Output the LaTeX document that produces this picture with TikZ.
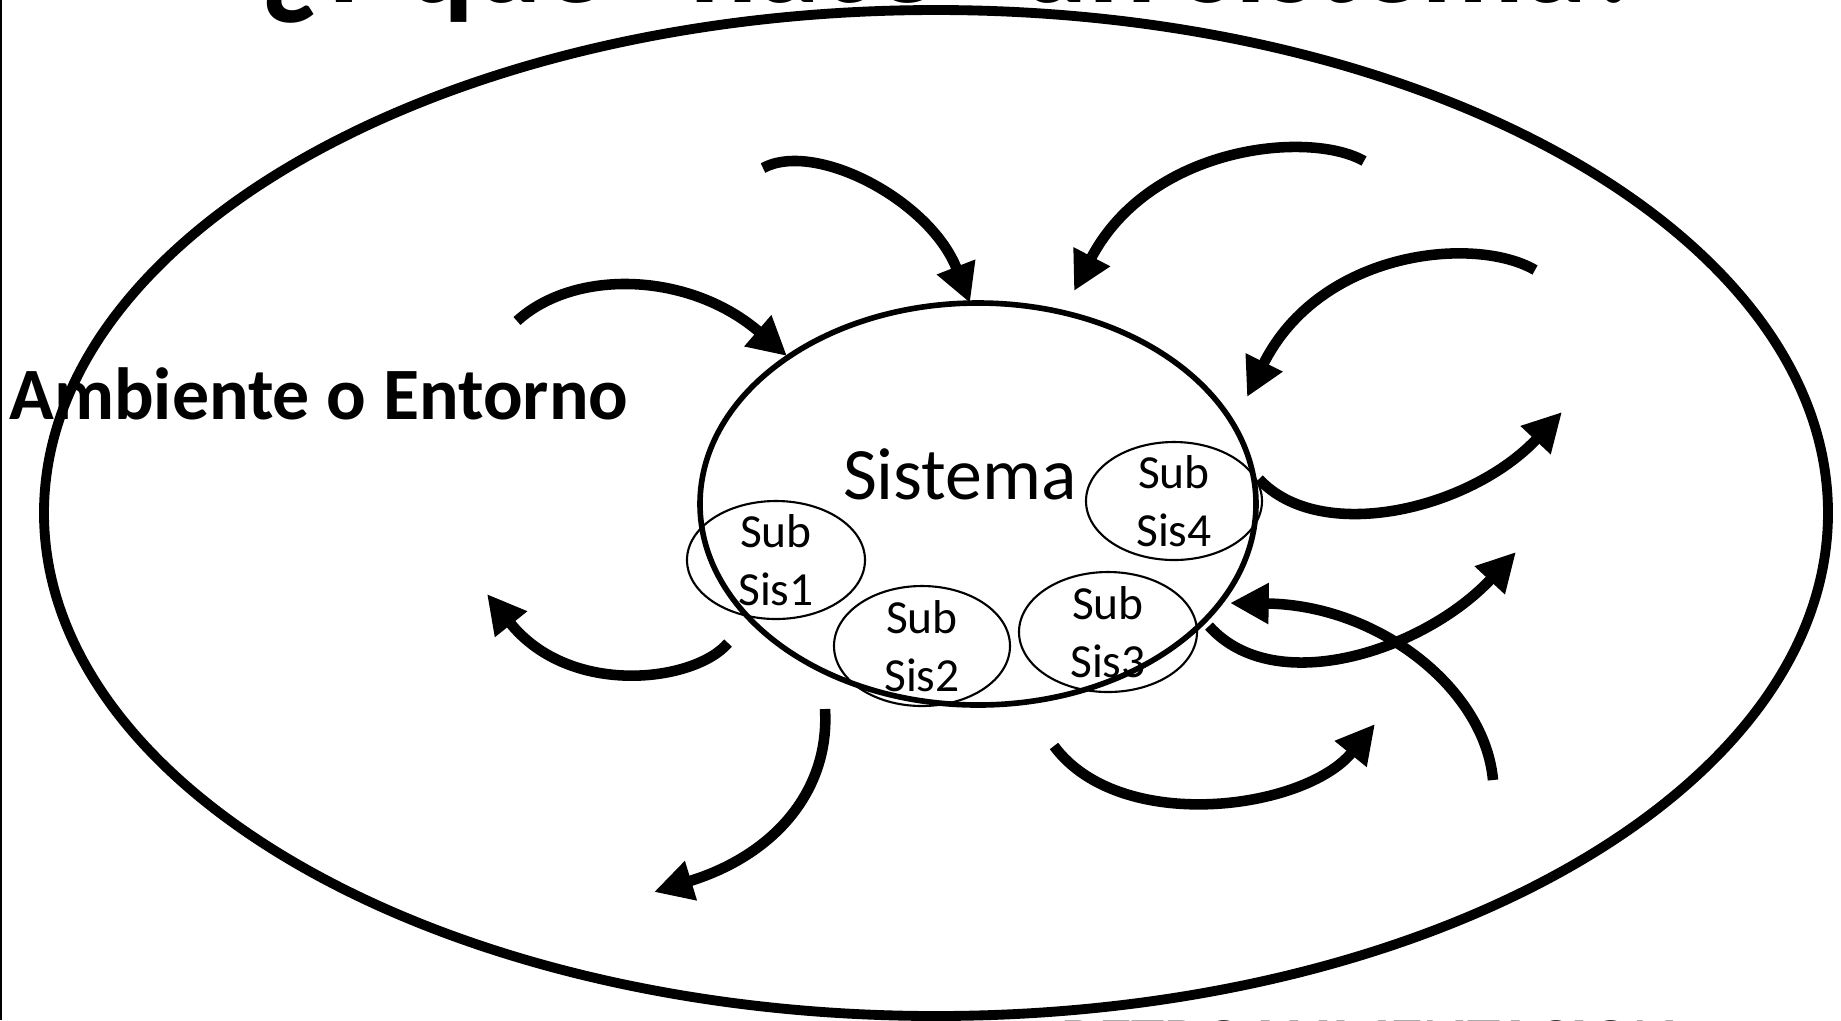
\documentclass[tikz,border=0pt]{standalone}
\usepackage{fontspec}
\setmainfont{Carlito}
\usetikzlibrary{arrows.meta}

\begin{document}
\begin{tikzpicture}[x=0.01cm,y=-0.01cm,
    flow/.style={line width=3pt,-{Triangle[length=11pt,width=11pt]}},
    subsis/.style={line width=0.6pt},
    subtext/.style={font=\fontsize{13.5}{16.5}\selectfont,align=center}]
    % Page and left frame line
    \useasboundingbox (0,0) rectangle (1841,1020);
    \clip (0,0) rectangle (1841,1020);
    \draw[line width=0.5pt] (1,0) -- (1,1020);

    % Title and footer (cut by the page edge)
    \node[anchor=base,font=\fontsize{36}{40}\selectfont\bfseries] (titulo) at (953,2) {¿Y qué “hace” un sistema?};
    \node[anchor=base west,font=\fontsize{19}{23}\selectfont\bfseries] (pie) at (1049,1064) {RETROALIMENTACION};

    % Environment
    \draw[line width=2.8pt] (936,513) ellipse (892 and 503);
    \node[anchor=base west,font=\fontsize{21}{25}\selectfont\bfseries] (entorno) at (-3,419) {Ambiente o Entorno};

    % System
    \draw[line width=1.6pt] (978,504) ellipse (278 and 201);
    \node[anchor=base,font=\fontsize{21}{25}\selectfont] (sistema) at (960,499) {Sistema};

    % Subsystems
    \node[subtext] (sub1) at (776,560) {Sub\\Sis1};
    \draw[subsis] (sub1) ellipse (89 and 59);
    \node[subtext] (sub2) at (922,646) {Sub\\Sis2};
    \draw[subsis] (sub2) ellipse (88 and 60);
    \node[subtext] (sub3) at (1108,632) {Sub\\Sis3};
    \draw[subsis] (sub3) ellipse (89 and 60);
    \node[subtext] (sub4) at (1174,501) {Sub\\Sis4};
    \draw[subsis] (sub4) ellipse (88 and 59);

    % Ends of the flows: e = environment side, s = system side
    \coordinate (e1) at (763,168);   \coordinate (s1) at (970,303);
    \coordinate (e2) at (1364,161);  \coordinate (s2) at (1074,291);
    \coordinate (e3) at (1535,270);  \coordinate (s3) at (1247,397);
    \coordinate (e4) at (517,321);   \coordinate (s4) at (787,356);
    \coordinate (e5) at (1562,412);  \coordinate (s5) at (1259,479);
    \coordinate (e6) at (1516,552);  \coordinate (s6) at (1209,626);
    \coordinate (e7) at (1493,780);  \coordinate (s7) at (1230,603);
    \coordinate (e8) at (1375,724);  \coordinate (s8) at (1054,746);
    \coordinate (e9) at (654,892);   \coordinate (s9) at (825,709);
    \coordinate (e10) at (487,594);  \coordinate (s10) at (728,643);

    % Inputs
    \draw[flow] (e1) .. controls (815,140) and (930,200) .. (s1);
    \draw[flow] (e2) .. controls (1310,130) and (1150,145) .. (s2);
    \draw[flow] (e3) .. controls (1475,235) and (1320,250) .. (s3);
    \draw[flow] (e4) .. controls (575,268) and (690,272) .. (s4);
    \draw[flow] (e7) .. controls (1485,690) and (1380,605) .. (s7);

    % Outputs
    \draw[flow] (s5) .. controls (1320,545) and (1470,510) .. (e5);
    \draw[flow] (s6) .. controls (1275,700) and (1425,650) .. (e6);
    \draw[flow] (s8) .. controls (1120,835) and (1305,810) .. (e8);
    \draw[flow] (s9) .. controls (830,790) and (775,855) .. (e9);
    \draw[flow] (s10) .. controls (695,682) and (570,698) .. (e10);
\end{tikzpicture}
\end{document}
